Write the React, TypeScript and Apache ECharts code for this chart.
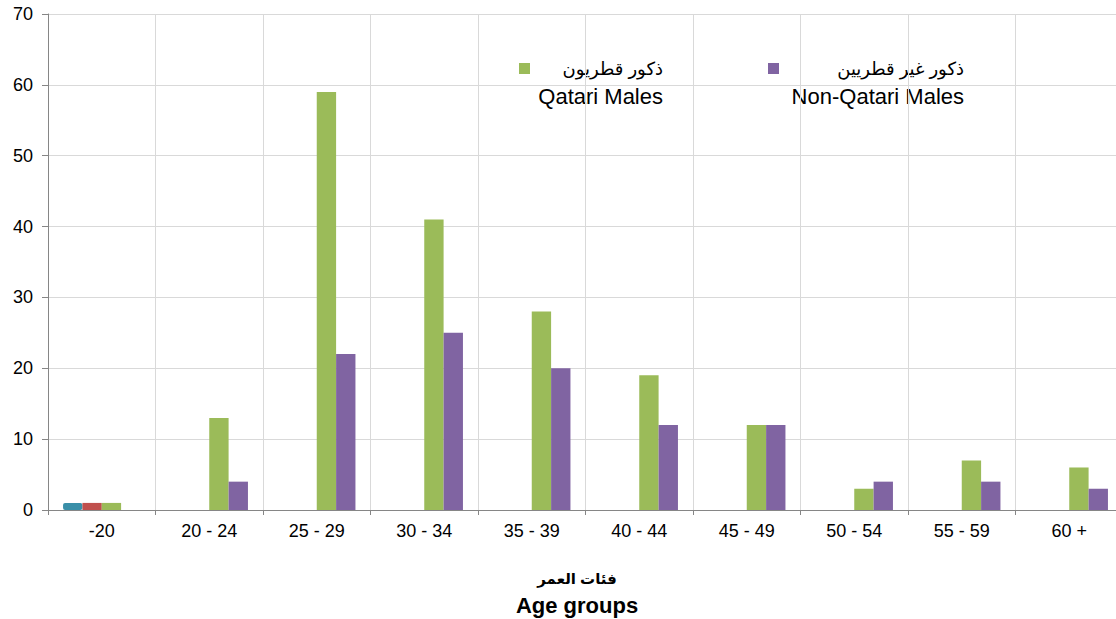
import React, { useEffect, useRef } from "react";
import * as echarts from "echarts";

const categories = ["-20", "20 - 24", "25 - 29", "30 - 34", "35 - 39", "40 - 44", "45 - 49", "50 - 54", "55 - 59", "60 +"];
const blueValues = [1, 0, 0, 0, 0, 0, 0, 0, 0, 0];
const redValues = [1, 0, 0, 0, 0, 0, 0, 0, 0, 0];
const qatariMales = [1, 13, 59, 41, 28, 19, 12, 3, 7, 6];
const nonQatariMales = [0, 4, 22, 25, 20, 12, 12, 4, 4, 3];
const yTicks = [0, 10, 20, 30, 40, 50, 60, 70];

const FONT = "'Liberation Sans', Arial, 'DejaVu Sans', sans-serif";

export default function App() {
  const ref = useRef<HTMLDivElement>(null);
  useEffect(() => {
    if (!ref.current) return;
    const chart = echarts.init(ref.current, undefined, { renderer: "svg" });
    const barBase = { type: "bar", barGap: "0%", barCategoryGap: "28%" };
    chart.setOption({
      animation: false,
      textStyle: { fontFamily: FONT },
      grid: { left: 48, top: 14, width: 1075, height: 496, containLabel: false, outerBoundsMode: "none" },
      xAxis: {
        type: "category",
        data: categories,
        axisLine: { lineStyle: { color: "#868686", width: 1 } },
        axisTick: { show: true, length: 5, alignWithLabel: false, lineStyle: { color: "#868686" } },
        axisLabel: { color: "#000", fontSize: 18, margin: 12, fontFamily: FONT },
        splitLine: { show: true, lineStyle: { color: "#d9d9d9", width: 1 } },
      },
      yAxis: {
        type: "value",
        min: yTicks[0],
        max: yTicks[yTicks.length - 1],
        interval: 10,
        axisLine: { show: true, lineStyle: { color: "#868686", width: 1 } },
        axisTick: { show: true, length: 6, lineStyle: { color: "#868686" } },
        axisLabel: { color: "#000", fontSize: 18, margin: 15, fontFamily: FONT },
        splitLine: { show: true, lineStyle: { color: "#d9d9d9", width: 1 } },
      },
      series: [
        { ...barBase, name: "blue", data: blueValues, itemStyle: { color: "#3a8fa8", borderRadius: 2 } },
        { ...barBase, name: "red", data: redValues, itemStyle: { color: "#c0504d" } },
        { ...barBase, name: "ذكور قطريون Qatari Males", data: qatariMales, itemStyle: { color: "#9bbb59" } },
        { ...barBase, name: "ذكور غير قطريين Non-Qatari Males", data: nonQatariMales, itemStyle: { color: "#8064a2" } },
      ],
      graphic: [
        { type: "rect", shape: { x: 519, y: 63, width: 11, height: 11 }, style: { fill: "#9bbb59" } },
        { type: "text", x: 663, y: 69, style: { text: "ذكور قطريون", fontSize: 18, fontFamily: FONT, fill: "#000", align: "right", verticalAlign: "middle" } },
        { type: "text", x: 663, y: 96, style: { text: "Qatari Males", fontSize: 22, fontFamily: FONT, fill: "#000", align: "right", verticalAlign: "middle" } },
        { type: "rect", shape: { x: 768, y: 63, width: 11, height: 11 }, style: { fill: "#8064a2" } },
        { type: "text", x: 964, y: 69, style: { text: "ذكور غير قطريين", fontSize: 18, fontFamily: FONT, fill: "#000", align: "right", verticalAlign: "middle" } },
        { type: "text", x: 964, y: 96, style: { text: "Non-Qatari Males", fontSize: 22, fontFamily: FONT, fill: "#000", align: "right", verticalAlign: "middle" } },
        { type: "text", x: 577, y: 578, style: { text: "فئات العمر", fontSize: 15, fontWeight: "bold", fontFamily: FONT, fill: "#000", align: "center", verticalAlign: "middle" } },
        { type: "text", x: 577, y: 605, style: { text: "Age groups", fontSize: 22, fontWeight: "bold", fontFamily: FONT, fill: "#000", align: "center", verticalAlign: "middle" } },
      ],
    });
    return () => chart.dispose();
  }, []);
  return <div ref={ref} style={{ position: "absolute", left: 0, top: 0, width: 1116, height: 619, background: "#fff" }} />;
}
